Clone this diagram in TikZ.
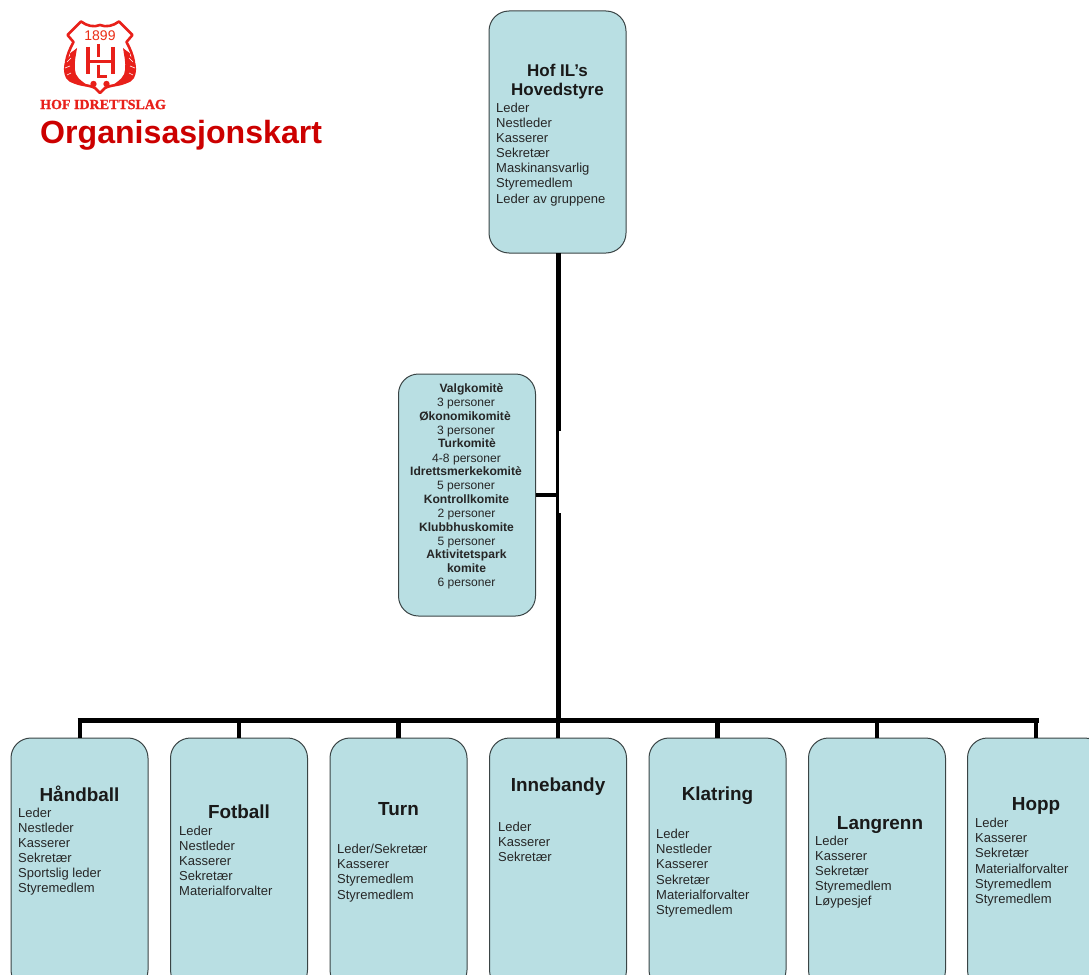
\documentclass[tikz,border=0pt]{standalone}
\usepackage{fontspec}
\usetikzlibrary{calc}
\setmainfont{Liberation Sans}
\newfontfamily\logofont[BoldFeatures={FakeBold=1.2}]{Liberation Serif}
\definecolor{boxfill}{HTML}{B9DFE3}
\definecolor{boxline}{HTML}{3A4445}
\definecolor{logored}{HTML}{E8201A}
\definecolor{titlered}{HTML}{CC0000}
\tikzset{
 orgbox/.style={draw=boxline,line width=1pt,fill=boxfill,rounded corners=20pt,minimum width=137pt,inner sep=0pt},
 lowbox/.style={orgbox,minimum height=252pt},
 heading/.style={font=\bfseries\fontsize{17}{19}\selectfont,align=center,text=black!90,inner sep=0pt},
 lowhead/.style={heading,font=\bfseries\fontsize{18.9}{21}\selectfont},
 roles/.style={font=\fontsize{13}{15.15}\selectfont,align=left,anchor=north west,text=black!85,inner sep=0pt},
 comite/.style={font=\fontsize{12.1}{13.95}\selectfont,align=center,anchor=north,text=black!85,inner sep=0pt},
 conn/.style={line width=5pt,black},
 drop/.style={line width=4.4pt,black},
 thinconn/.style={line width=3pt,black},
}
\begin{document}
\begin{tikzpicture}[x=1pt,y=-1pt]
\useasboundingbox (0,0) rectangle (1089,974);
\clip (0,0) rectangle (1089,974);
% connector coordinates
\coordinate (bus) at (558,720);
\coordinate (busL) at (80,720);
\coordinate (busR) at (1036,720);
\coordinate (spine) at (558,253);
\coordinate (gapTop) at (558,431);
\coordinate (gapBot) at (558,513);
\coordinate (thinTop) at (557,431);
\coordinate (thinBot) at (557,513);
\coordinate (junction) at (556,495);
% boxes
\node[orgbox,minimum height=242pt] (hoved) at (557.5,132) {};
\node[orgbox,minimum height=242pt] (komite) at (467,495) {};
\node[lowbox] (handball) at (79.5,864) {};
\node[lowbox] (fotball) at (239,864) {};
\node[lowbox] (turn) at (398.5,864) {};
\node[lowbox] (innebandy) at (558,864) {};
\node[lowbox] (klatring) at (717.5,864) {};
\node[lowbox] (langrenn) at (877,864) {};
\node[lowbox] (hopp) at (1036,864) {};
% connectors
\draw[conn] (spine) -- (gapTop);
\draw[thinconn] (thinTop) -- (thinBot);
\draw[conn] (gapBot) -- (bus);
\draw[line width=4.5pt] (komite.east) -- (junction);
\draw[conn] ($(busL)+(-2.5,0)$) -- ($(busR)+(2.5,0)$);
\draw[drop] (busL) -- (handball.north -| busL);
\draw[drop] (fotball.north |- bus) -- (fotball.north);
\draw[drop] (turn.north |- bus) -- (turn.north);
\draw[drop] (bus) -- (innebandy.north);
\draw[drop] (klatring.north |- bus) -- (klatring.north);
\draw[drop] (langrenn.north |- bus) -- (langrenn.north);
\draw[drop] (busR) -- (hopp.north);
% texts
\node[heading,font=\bfseries\fontsize{17}{19.4}\selectfont] (t0) at (557.5,81.5) {Hof IL’s\\[-0.5pt]Hovedstyre};
\node[roles] (r0) at (496,102.5) {Leder\\Nestleder\\Kasserer\\Sekretær\\Maskinansvarlig\\Styremedlem\\Leder av gruppene};
\node[comite] (k0) at (471.5,383.5) {\textbf{Valgkomitè}};
\node[comite] (k0b) at (466,397.5) {3 personer};
\node[comite] (k1) at (465,411.5) {\textbf{Økonomikomitè}};
\node[comite] (k1b) at (466,425.5) {3 personer};
\node[comite] (k2) at (467,438.5) {\textbf{Turkomitè}};
\node[comite] (k2b) at (466.5,453.5) {4-8 personer};
\node[comite] (k3) at (466,466.5) {\textbf{Idrettsmerkekomitè}\\5 personer};
\node[comite] (k4) at (466.5,495) {\textbf{Kontrollkomite}\\2 personer};
\node[comite] (k5) at (466.5,522.5) {\textbf{Klubbhuskomite}\\5 personer};
\node[comite] (k6) at (466.5,550) {\textbf{Aktivitetspark}\\\textbf{komite}\\6 personer};
\node[lowhead] (t1) at (79.5,794) {Håndball};
\node[roles] (r1) at (18,807.5) {Leder\\Nestleder\\Kasserer\\Sekretær\\Sportslig leder\\Styremedlem};
\node[lowhead] (t2) at (239,811.5) {Fotball};
\node[roles] (r2) at (179,825.5) {Leder\\Nestleder\\Kasserer\\Sekretær\\Materialforvalter};
\node[lowhead] (t3) at (398.5,809.5) {Turn};
\node[roles] (r3) at (337,844) {Leder/Sekretær\\Kasserer\\Styremedlem\\Styremedlem};
\node[lowhead] (t4) at (558,786.5) {Innebandy};
\node[roles] (r4) at (498,821.5) {Leder\\Kasserer\\Sekretær};
\node[lowhead] (t5) at (717.5,796) {Klatring};
\node[roles] (r5) at (656,829) {Leder\\Nestleder\\Kasserer\\Sekretær\\Materialforvalter\\Styremedlem};
\node[lowhead] (t6) at (880,824.5) {Langrenn};
\node[roles] (r6) at (815,835.5) {Leder\\Kasserer\\Sekretær\\Styremedlem\\Løypesjef};
\node[lowhead] (t7) at (1036,806) {Hopp};
\node[roles] (r7) at (975,818) {Leder\\Kasserer\\Sekretær\\Materialforvalter\\Styremedlem\\Styremedlem};
% logo shield
\draw[logored,line width=2.6pt,fill=white,line join=round]
 (81,21.5) .. controls (87,26) and (94,27.5) .. (100,25) .. controls (106,27.5) and (113,26) .. (119,21.5)
 -- (132.5,35) -- (126.5,42) .. controls (134,56) and (137,68) .. (131,78) .. controls (125,86) and (112,84) .. (105,88)
 -- (100,93) -- (95,88) .. controls (88,84) and (75,86) .. (69,78) .. controls (63,68) and (66,56) .. (73.5,42) -- (67.5,35) -- cycle;
\foreach \s in {1,-1}{
 \fill[logored,shift={(100,0)},xscale=\s] (23,48) .. controls (27,52) and (31,52) .. (30,56) .. controls (36,60) and (38,70) .. (34,78)
   .. controls (31,84) and (22,84) .. (13,85) .. controls (20,80) and (25,76) .. (25,70) .. controls (26,62) and (24,55) .. (23,48) -- cycle;
 \draw[white,line width=0.6pt,shift={(100,0)},xscale=\s] (29,58) -- (33,62) (30,66) -- (35,68) (29,73) -- (33,75);
 \fill[logored,shift={(100,0)},xscale=\s] (6.5,84) circle[radius=3.2];
}
\draw[logored,line width=4pt] (87.5,47) -- (87.5,74) (112.5,47) -- (112.5,74);
\draw[logored,line width=3pt] (86,61.5) -- (114,61.5);
\draw[logored,line width=2.2pt] (98.5,44) -- (98.5,57) (98.5,65) -- (98.5,76.5) -- (107,76.5);
\node[font=\fontsize{14}{15}\selectfont,text=logored!85!orange,inner sep=0pt] (year) at (100,35.5) {1899};
\node[font=\logofont\bfseries\fontsize{14}{15}\selectfont,text=logored,inner sep=0pt,anchor=west] (club) at (40,104.5) {HOF IDRETTSLAG};
\node[font=\bfseries\fontsize{32.1}{34}\selectfont,text=titlered,inner sep=0pt,anchor=west] (title) at (40,135.5) {Organisasjonskart};
\end{tikzpicture}
\end{document}
